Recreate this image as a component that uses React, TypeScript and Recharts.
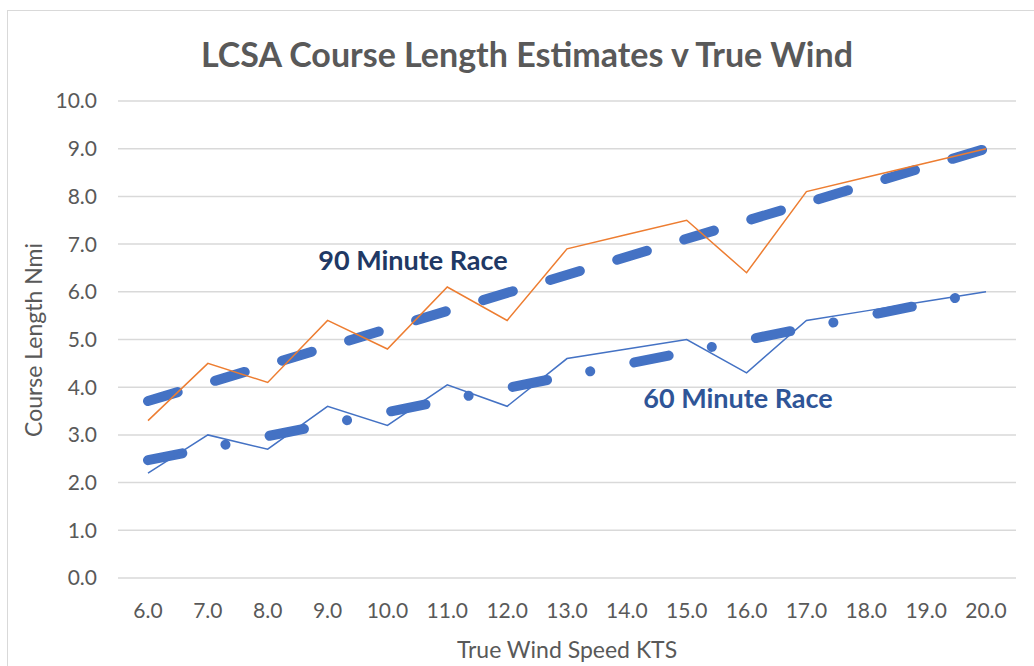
import { LineChart, Line, XAxis, YAxis, CartesianGrid } from 'recharts';

// true wind speed categories (kts)
const windSpeeds = ['6.0', '7.0', '8.0', '9.0', '10.0', '11.0', '12.0', '13.0', '14.0', '15.0', '16.0', '17.0', '18.0', '19.0', '20.0'];
// course length estimates (nmi)
const race90 = [3.3, 4.5, 4.1, 5.4, 4.8, 6.1, 5.4, 6.9, 7.2, 7.5, 6.4, 8.1, 8.4, 8.7, 9.0];
const race60 = [2.2, 3.0, 2.7, 3.6, 3.2, 4.05, 3.6, 4.6, 4.8, 5.0, 4.3, 5.4, 5.6, 5.8, 6.0];
// linear trendlines, read at the two ends
const trend90 = [3.71, null, null, null, null, null, null, null, null, null, null, null, null, null, 9.0];
const trend60 = [2.47, null, null, null, null, null, null, null, null, null, null, null, null, null, 6.0];
const yTicks = [0, 1, 2, 3, 4, 5, 6, 7, 8, 9, 10];

const rows = windSpeeds.map((w, i) => ({
  wind: w,
  race90: race90[i],
  race60: race60[i],
  trend90: trend90[i],
  trend60: trend60[i],
}));

const FONT = 'Lato, "Open Sans", sans-serif';
const GREY = '#595959';

export default function App() {
  return (
    <div style={{ position: 'absolute', left: 0, top: 0, width: 1034, height: 666, overflow: 'hidden', background: '#fff', fontFamily: FONT }}>
      <div style={{ position: 'absolute', left: 7, top: 10, width: 1027, height: 656, borderTop: '1px solid #d9d9d9', borderLeft: '1px solid #d9d9d9', boxSizing: 'border-box' }} />

      <div style={{ position: 'absolute', left: 527, top: 53, transform: 'translate(-50%, -50%)', whiteSpace: 'nowrap', fontSize: 34, fontWeight: 700, color: GREY }}>
        LCSA Course Length Estimates v True Wind
      </div>

      <LineChart width={1034} height={666} data={rows} margin={{ top: 101, right: 18, bottom: 58, left: 58 }}>
        <CartesianGrid vertical={false} stroke="#d9d9d9" strokeWidth={1.5} />
        <XAxis dataKey="wind" padding={{ left: 30, right: 30 }} axisLine={false} tickLine={false} height={30} tickMargin={19}
          tick={{ fill: GREY, fontSize: 21, fontFamily: FONT }} interval={0} />
        <YAxis domain={[0, 10]} ticks={yTicks} width={60} axisLine={false} tickLine={false} tickMargin={15}
          tickFormatter={v => Number(v).toFixed(1)} tick={{ fill: GREY, fontSize: 21, fontFamily: FONT }} />
        <Line dataKey="trend90" connectNulls dot={false} stroke="#4472C4" strokeWidth={10} strokeLinecap="round"
          strokeDasharray="31 39" isAnimationActive={false} />
        <Line dataKey="trend60" connectNulls dot={false} stroke="#4472C4" strokeWidth={10} strokeLinecap="round"
          strokeDasharray="35 44 0.01 45" isAnimationActive={false} />
        <Line dataKey="race90" type="linear" dot={false} stroke="#ED7D31" strokeWidth={1.5} isAnimationActive={false} />
        <Line dataKey="race60" type="linear" dot={false} stroke="#4472C4" strokeWidth={1.5} isAnimationActive={false} />
      </LineChart>

      <div style={{ position: 'absolute', left: 33, top: 340, transform: 'translate(-50%, -50%) rotate(-90deg)', whiteSpace: 'nowrap', fontSize: 23, color: GREY }}>
        Course Length Nmi
      </div>
      <div style={{ position: 'absolute', left: 567, top: 649, transform: 'translate(-50%, -50%)', whiteSpace: 'nowrap', fontSize: 23, color: GREY }}>
        True Wind Speed KTS
      </div>

      <div style={{ position: 'absolute', left: 413, top: 259, transform: 'translate(-50%, -50%)', whiteSpace: 'nowrap', fontSize: 27, fontWeight: 700, color: '#203864' }}>
        90 Minute Race
      </div>
      <div style={{ position: 'absolute', left: 738, top: 397, transform: 'translate(-50%, -50%)', whiteSpace: 'nowrap', fontSize: 27, fontWeight: 700, color: '#2F5597' }}>
        60 Minute Race
      </div>
    </div>
  );
}
